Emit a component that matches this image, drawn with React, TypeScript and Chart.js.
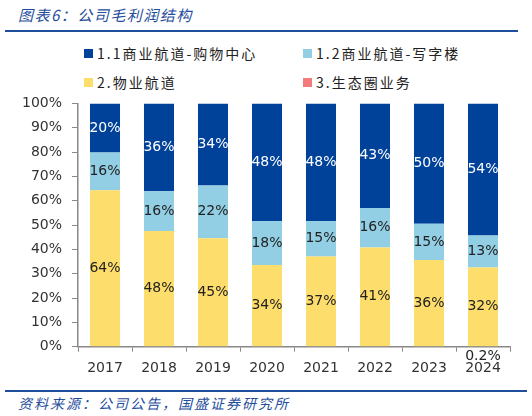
import { useEffect, useRef } from 'react'
import { Chart, registerables } from 'chart.js'

Chart.register(...registerables)

const years = ['2017', '2018', '2019', '2020', '2021', '2022', '2023', '2024']
// 毛利润结构（%）
const ecoShare = [0, 0, 0, 0, 0, 0, 0, 0.2]
const propertyShare = [64.3, 47.6, 44.6, 33.6, 37.1, 40.8, 35.6, 32.4]
const officeShare = [15.5, 16.3, 21.7, 18.0, 14.5, 16.2, 14.9, 13.1]
const mallShare = [20.2, 36.1, 33.7, 48.4, 48.4, 43.0, 49.5, 54.3]
const yTicks = [0, 10, 20, 30, 40, 50, 60, 70, 80, 90, 100]

const DARK = '#00419a'
const LIGHT = '#92cfe4'
const YELLOW = '#fddd6b'
const PINK = '#f47b7b'
const LINE_BLUE = '#1f4e9c'

const legendItems = [
  { label: '1.1商业航道-购物中心', color: DARK, x: 84, y: 53 },
  { label: '1.2商业航道-写字楼', color: LIGHT, x: 303, y: 53 },
  { label: '2.物业航道', color: YELLOW, x: 84, y: 82 },
  { label: '3.生态圈业务', color: PINK, x: 303, y: 82 },
]

const valueLabels = {
  id: 'valueLabels',
  afterDatasetsDraw(chart: Chart) {
    const ctx = chart.ctx
    ctx.save()
    ctx.font = '14px "DejaVu Sans"'
    ctx.textAlign = 'center'
    ctx.textBaseline = 'middle'
    chart.data.datasets.forEach((ds, di) => {
      const meta = chart.getDatasetMeta(di)
      meta.data.forEach((el: any, i) => {
        const v = ds.data[i] as number
        if (!v) return
        let y = (el.y + el.base) / 2
        let text = Math.round(v) + '%'
        if (v < 1) {
          text = v.toFixed(1) + '%'
          y = el.base + 10
        }
        ctx.fillStyle = (ds as any).labelColor
        ctx.fillText(text, el.x, y)
      })
    })
    ctx.restore()
  },
}

function GrossProfitChart() {
  const canvasRef = useRef<HTMLCanvasElement | null>(null)
  const chartRef = useRef<Chart | null>(null)

  useEffect(() => {
    if (!canvasRef.current) return
    const ctx = canvasRef.current.getContext('2d')!
    const common = { barPercentage: 0.556, categoryPercentage: 1, borderWidth: 0 }

    chartRef.current = new Chart(ctx, {
      type: 'bar',
      data: {
        labels: years,
        datasets: [
          { label: '3.生态圈业务', data: ecoShare, backgroundColor: PINK, labelColor: '#222', ...common } as any,
          { label: '2.物业航道', data: propertyShare, backgroundColor: YELLOW, labelColor: '#222', ...common } as any,
          { label: '1.2商业航道-写字楼', data: officeShare, backgroundColor: LIGHT, labelColor: '#222', ...common } as any,
          { label: '1.1商业航道-购物中心', data: mallShare, backgroundColor: DARK, labelColor: '#fff', ...common } as any,
        ],
      },
      options: {
        responsive: true,
        maintainAspectRatio: false,
        animation: false,
        layout: { padding: { top: 11.7, right: 22, left: 0, bottom: 0 } },
        plugins: { legend: { display: false }, tooltip: { enabled: false } },
        scales: {
          x: {
            stacked: true,
            grid: { offset: true, drawOnChartArea: false, tickLength: 5, color: '#888' },
            border: { color: '#888', width: 1.5 },
            ticks: { color: '#333', padding: 8, font: { family: 'DejaVu Sans', size: 14 } },
            afterFit: (s: any) => { s.height = 38.3 },
          },
          y: {
            stacked: true,
            min: 0,
            max: 100,
            afterBuildTicks: (s: any) => { s.ticks = yTicks.map((v) => ({ value: v })) },
            grid: { drawOnChartArea: false, tickLength: 6, color: '#888' },
            border: { color: '#888', width: 1.5 },
            ticks: {
              color: '#333',
              padding: 10,
              font: { family: 'DejaVu Sans', size: 14 },
              callback: (v: any) => v + '%',
            },
            afterFit: (s: any) => { s.width = 78 },
          },
        },
      },
      plugins: [valueLabels],
    })

    return () => chartRef.current?.destroy()
  }, [])

  return <canvas ref={canvasRef} />
}

export default function App() {
  const cjk = '"Noto Sans CJK SC", sans-serif'
  return (
    <div style={{ position: 'fixed', left: 0, top: 0, width: 532, height: 416, background: '#fff', fontFamily: cjk }}>
      <div style={{ position: 'absolute', left: 18, top: 4, fontSize: 15, fontStyle: 'italic', color: LINE_BLUE, letterSpacing: 1.5, lineHeight: '22px', whiteSpace: 'nowrap' }}>
        图表6：公司毛利润结构
      </div>
      <div style={{ position: 'absolute', left: 5, top: 30, width: 513, height: 2, background: LINE_BLUE }} />
      {legendItems.map((it) => (
        <div key={it.label} style={{ position: 'absolute', left: it.x, top: it.y - 10, height: 20, display: 'flex', alignItems: 'center', whiteSpace: 'nowrap' }}>
          <span style={{ width: 9, height: 9, background: it.color, marginRight: 4 }} />
          <span style={{ fontSize: 14, color: '#222', letterSpacing: 2 }}>{it.label}</span>
        </div>
      ))}
      <div style={{ position: 'absolute', left: 0, top: 85, width: 532, height: 300 }}>
        <GrossProfitChart />
      </div>
      <div style={{ position: 'absolute', left: 5, top: 390, width: 522, height: 2, background: LINE_BLUE }} />
      <div style={{ position: 'absolute', left: 18, top: 392, fontSize: 14, fontStyle: 'italic', color: LINE_BLUE, letterSpacing: 2, lineHeight: '22px', whiteSpace: 'nowrap' }}>
        资料来源：公司公告，国盛证券研究所
      </div>
    </div>
  )
}
